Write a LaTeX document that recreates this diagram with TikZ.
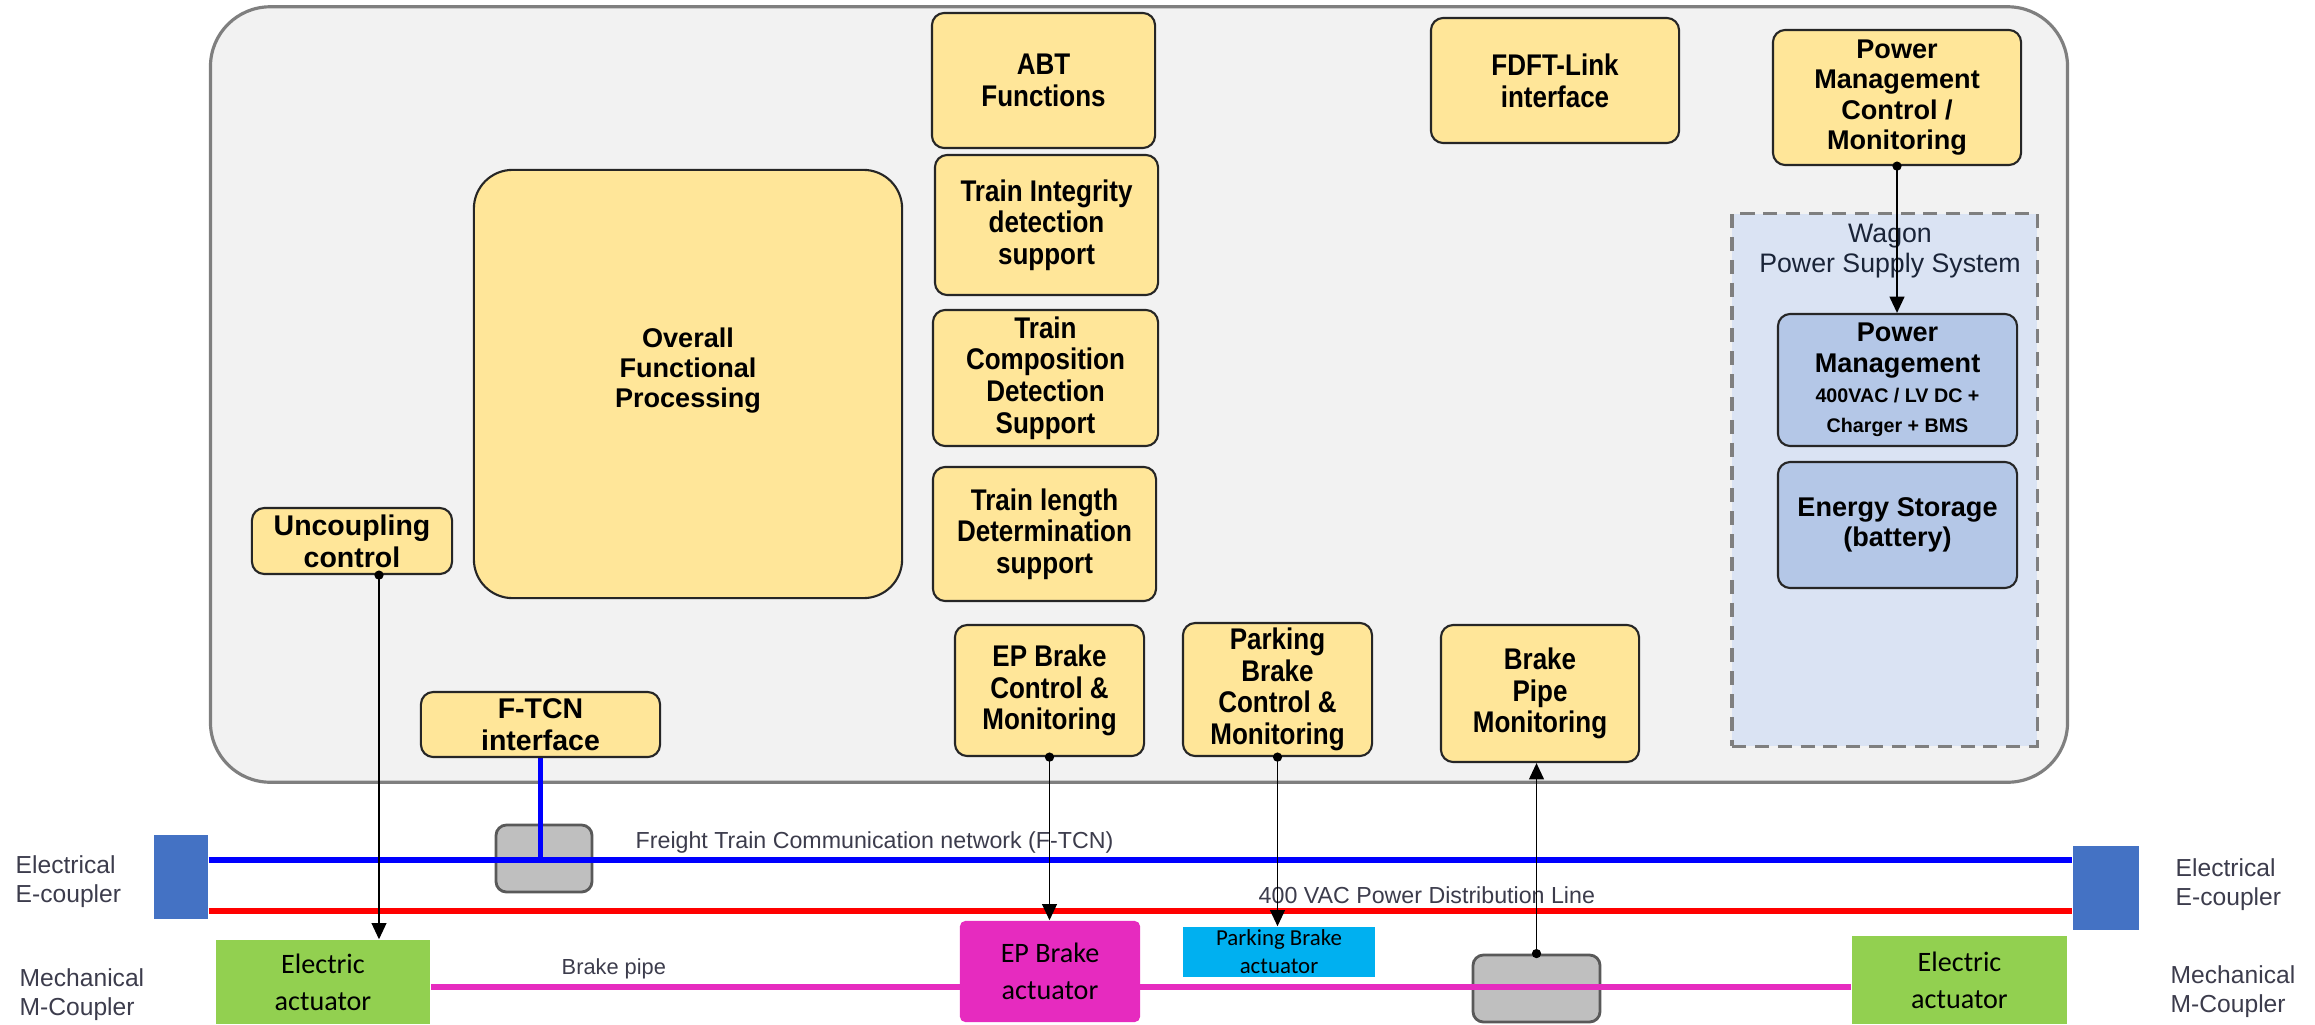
\documentclass[tikz,border=0pt]{standalone}
\usepackage{fontspec}
\setmainfont{Liberation Sans}
\newfontfamily\narrowfont[FakeStretch=0.87]{Liberation Sans}
\newfontfamily\carlfont{Carlito}
\usetikzlibrary{arrows.meta,calc}
\pgfdeclarelayer{bg}
\pgfdeclarelayer{mid}
\pgfsetlayers{bg,mid,main}

\definecolor{boxyellow}{HTML}{FFE699}
\definecolor{boxedge}{HTML}{262626}
\definecolor{panel}{HTML}{F2F2F2}
\definecolor{paneledge}{HTML}{7F7F7F}
\definecolor{wagonfill}{HTML}{DAE3F3}
\definecolor{pmblue}{HTML}{B4C7E7}
\definecolor{actgreen}{HTML}{92D050}
\definecolor{actmag}{HTML}{E62BBF}
\definecolor{actcyan}{HTML}{00B0F0}
\definecolor{gwgray}{HTML}{BFBFBF}
\definecolor{gwedge}{HTML}{595959}
\definecolor{coupblue}{HTML}{4472C4}
\definecolor{netblue}{HTML}{0000FF}
\definecolor{pwrred}{HTML}{FF0000}
\definecolor{labtext}{HTML}{3C3C4C}
\definecolor{wagontext}{HTML}{1A2438}

% name, style, x1, y1, x2, y2, text  (pixel coordinates, y downwards)
\newcommand\pbox[7]{\node[#2, minimum width={(#5-#3)*0.28453pt}, minimum height={(#6-#4)*0.28453pt}] (#1) at ({(#3+#5)/2},{(#4+#6)/2}) {#7};}

\tikzset{
  panelsty/.style={draw=paneledge, fill=panel, line width=0.9pt, rounded corners=17pt, inner sep=0pt},
  ybox/.style={draw=boxedge, fill=boxyellow, rounded corners=3.5pt, line width=0.6pt, inner sep=0pt, align=center,
    font=\narrowfont\bfseries\fontsize{8.5}{9}\selectfont},
  wbox/.style={draw=boxedge, fill=boxyellow, rounded corners=3.5pt, line width=0.6pt, inner sep=0pt, align=center,
    font=\bfseries\fontsize{7.7}{8.6}\selectfont},
  bbox/.style={wbox, fill=pmblue},
  wagonsty/.style={draw=paneledge, fill=wagonfill, dash pattern=on 4pt off 2.5pt, line width=0.9pt, inner sep=0pt},
  act/.style={inner sep=0pt, align=center, font=\carlfont\fontsize{8}{10.5}\selectfont},
  gw/.style={draw=gwedge, fill=gwgray, rounded corners=3pt, line width=0.8pt, inner sep=0pt},
  coup/.style={fill=coupblue, inner sep=0pt},
  sidelab/.style={align=left, anchor=west, text=labtext, inner sep=0pt, font=\fontsize{7}{8.2}\selectfont},
  linelab/.style={anchor=west, text=labtext, inner sep=0pt, font=\fontsize{6.6}{7.5}\selectfont},
  conn/.style={draw=black, line width=0.45pt, shorten <=-1.3pt, {Circle[length=2.6pt]}-{Triangle[width=4.2pt,length=4.6pt]}},
  netline/.style={draw=netblue, line width=1.5pt},
  pwrline/.style={draw=pwrred, line width=1.5pt},
  pipeline/.style={draw=actmag, line width=1.8pt}
}

\begin{document}
\begin{tikzpicture}[x=0.01cm, y=-0.01cm]
\useasboundingbox (0,0) rectangle (2315,1024);

\begin{pgfonlayer}{bg}
\pbox{panelbox}{panelsty}{211}{7}{2067}{782}{}
\pbox{gwleft}{gw}{496}{825}{592}{892}{}
\pbox{gwright}{gw}{1473}{955}{1600}{1022}{}
\end{pgfonlayer}

% upper functional blocks
\pbox{abt}{ybox}{932}{13}{1155}{148}{ABT\\Functions}
\pbox{tid}{ybox}{935}{155}{1158}{295}{Train Integrity\\detection\\support}
\pbox{tcd}{ybox}{933}{310}{1158}{446}{Train\\Composition\\Detection\\Support}
\pbox{tld}{ybox}{933}{467}{1156}{601}{Train length\\Determination\\support}
\pbox{ofp}{wbox, rounded corners=11pt}{474}{170}{902}{598}{Overall\\Functional\\Processing\\[0.6pt]}
\pbox{unc}{wbox, font=\bfseries\fontsize{8.1}{9}\selectfont}{252}{508}{452}{574}{Uncoupling\\control}
\pbox{ftcn}{wbox, font=\bfseries\fontsize{8.1}{9}\selectfont}{421}{692}{660}{757}{F-TCN\\interface}
\pbox{fdft}{ybox}{1431}{18}{1679}{143}{FDFT-Link\\interface}
\pbox{pmc}{wbox}{1773}{30}{2021}{165}{Power\\Management\\Control /\\Monitoring}
\pbox{wagon}{wagonsty}{1732}{214}{2037}{746}{}
\node[align=center, inner sep=0pt, text=wagontext, font=\fontsize{7.6}{8.6}\selectfont] (wagonlab) at (1890,251) {Wagon\\Power Supply System};
\pbox{pm}{bbox}{1778}{314}{2017}{446}{Power\\Management\\{\fontsize{5.6}{7}\selectfont 400VAC / LV DC +}\\{\fontsize{5.6}{7}\selectfont Charger + BMS}}
\pbox{es}{bbox}{1778}{462}{2017}{588}{Energy Storage\\(battery)}
\pbox{epc}{ybox}{955}{625}{1144}{756}{EP Brake\\Control \&\\Monitoring}
\pbox{pbc}{ybox}{1183}{623}{1372}{756}{Parking\\Brake\\Control \&\\Monitoring}
\pbox{bpm}{ybox}{1441}{625}{1639}{762}{Brake\\Pipe\\Monitoring}

% bottom: couplers and actuators
\pbox{ecl}{coup}{154}{835}{208}{919}{}
\pbox{ecr}{coup}{2073}{846}{2139}{930}{}
\pbox{eal}{act, fill=actgreen}{216}{940}{430}{1024}{Electric\\actuator}
\pbox{ear}{act, fill=actgreen}{1852}{936}{2067}{1024}{Electric\\actuator}
\pbox{epa}{act, fill=actmag, rounded corners=1.5pt}{960}{921}{1140}{1022}{EP Brake\\actuator}
\pbox{pba}{act, fill=actcyan, font=\carlfont\fontsize{6.5}{8}\selectfont}{1183}{927}{1375}{977}{Parking Brake\\actuator}

\coordinate (yb) at (0,860);
\coordinate (yr) at (0,911);
\coordinate (yp) at (0,987);
\coordinate (xu) at (379,0);

\begin{pgfonlayer}{mid}
\draw[netline] (ecl.east |- yb) -- (ecr.west |- yb);
\draw[pwrline] (ecl.east |- yr) -- (ecr.west |- yr);
\draw[pipeline] (eal.east |- yp) -- (ear.west |- yp);
\draw[netline] (ftcn.south) -- (ftcn.south |- yb);
\end{pgfonlayer}

% line labels
\node[linelab] (ftcnlab) at (635,842) {Freight Train Communication network (F-TCN)};
\node[linelab] (pwrlab) at (1258,895) {400 VAC Power Distribution Line};
\node[linelab, font=\fontsize{6.2}{7}\selectfont] (pipelab) at (561,969) {Brake pipe};
\node[sidelab] (ecllab) at (15,882) {Electrical\\E-coupler};
\node[sidelab] (mcllab) at (19,995) {Mechanical\\M-Coupler};
\node[sidelab] (ecrlab) at (2175,885) {Electrical\\E-coupler};
\node[sidelab] (mcrlab) at (2170,992) {Mechanical\\M-Coupler};

% connectors
\draw[conn] (unc.south -| xu) -- (eal.north -| xu);
\draw[conn] (epc.south) -- (epc.south |- epa.north);
\draw[conn] (pbc.south) -- (pbc.south |- pba.north);
\draw[conn] (gwright.north) -- (gwright.north |- bpm.south);
\draw[conn] (pmc.south) -- (pmc.south |- pm.north);
\end{tikzpicture}
\end{document}
